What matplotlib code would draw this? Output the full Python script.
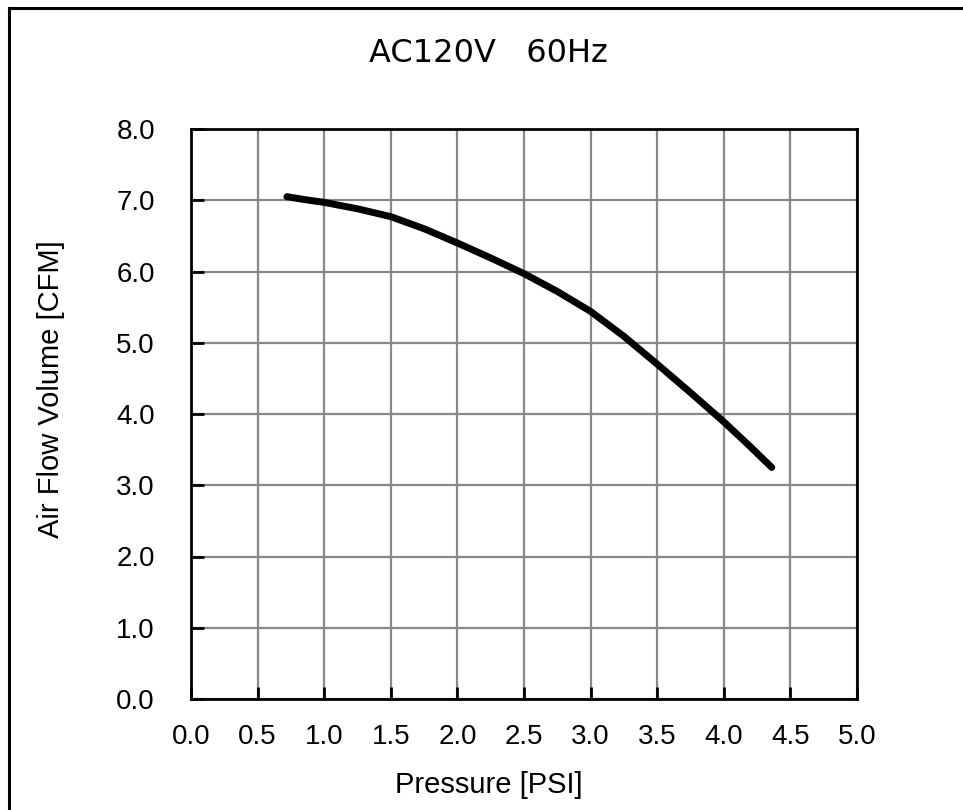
import numpy as np
import matplotlib.pyplot as plt
from matplotlib.lines import Line2D

# Kennlinie
pressure = [0.72, 0.85, 1.0, 1.25, 1.5, 1.75, 2.0, 2.25, 2.5, 2.75, 3.0, 3.25, 3.5, 3.75, 4.0, 4.2, 4.36]
airflow = [7.05, 7.01, 6.97, 6.88, 6.77, 6.60, 6.40, 6.19, 5.97, 5.72, 5.44, 5.09, 4.70, 4.30, 3.89, 3.54, 3.25]

xticks = np.arange(0, 5.01, 0.5)
yticks = np.arange(0, 8.01, 1.0)

W, H = 963, 810

def create_plot():
    fig = plt.figure(figsize=(W/100, H/100), dpi=100)
    ax = fig.add_axes([191/W, 1-699/H, (857-191)/W, (699-129)/H])

    ax.plot(pressure, airflow, color='black', lw=5, solid_capstyle='round',
            solid_joinstyle='round', zorder=3)

    ax.set_xlim(0, 5)
    ax.set_ylim(0, 8)
    ax.set_xticks(xticks)
    ax.set_yticks(yticks)
    ax.set_xticklabels(["%.1f" % v for v in xticks], family='Liberation Sans', fontsize=20)
    ax.set_yticklabels(["%.1f" % v for v in yticks], family='Liberation Sans', fontsize=20)
    ax.tick_params(direction='in', length=9, width=2)
    ax.tick_params(axis='x', pad=18)
    ax.tick_params(axis='y', pad=26)
    ax.grid(True, color='#888888', lw=1.6)
    ax.set_axisbelow(True)
    for s in ax.spines.values():
        s.set_linewidth(2)

    fig.text(488/W, 1-53/H, "AC120V   60Hz", ha='center', va='center',
             family='DejaVu Sans', fontsize=23)
    fig.text(489/W, 1-785/H, "Pressure [PSI]", ha='center', va='center',
             family='Liberation Sans', fontsize=21)
    fig.text(51/W, 1-389/H, "Air Flow Volume [CFM]", ha='center', va='center',
             rotation=90, family='Liberation Sans', fontsize=21)

    # Rahmen (rechts und unten abgeschnitten)
    fig.add_artist(Line2D([9/W, 1], [1-8/H, 1-8/H], color='black', lw=2.2, transform=fig.transFigure))
    fig.add_artist(Line2D([9/W, 9/W], [0, 1-8/H], color='black', lw=2.2, transform=fig.transFigure))

    fig.savefig("out.png", dpi=100)

create_plot()
